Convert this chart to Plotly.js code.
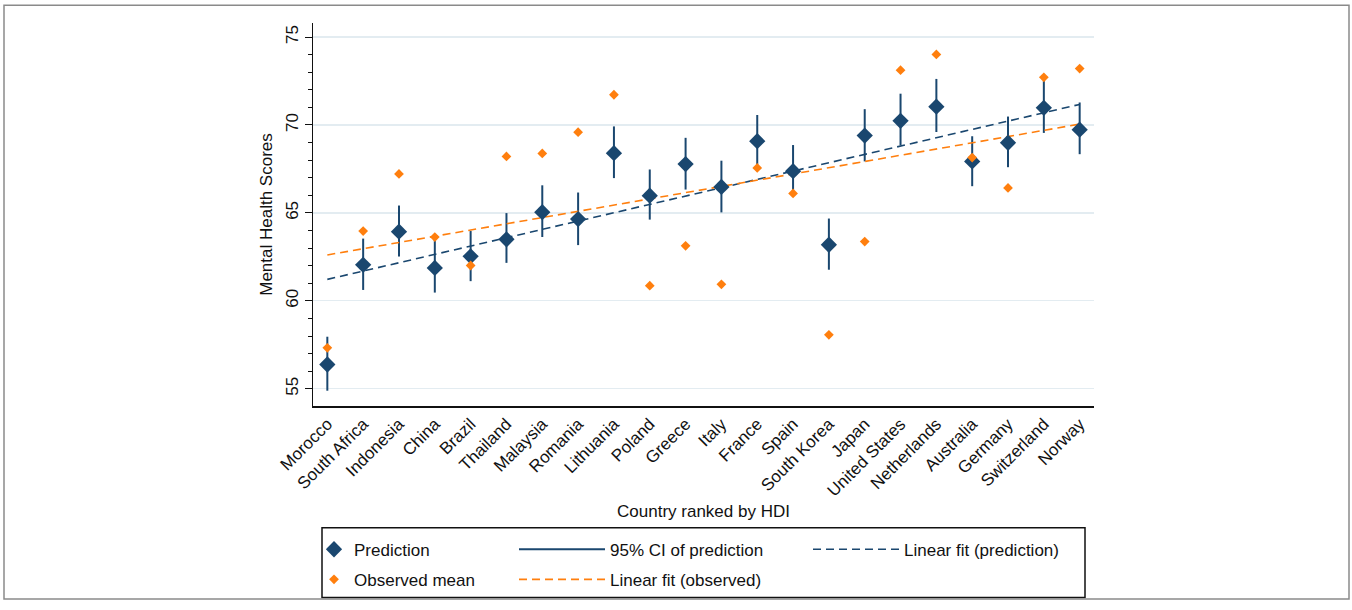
<!DOCTYPE html>
<html>
<head>
<meta charset="utf-8">
<script src="https://cdn.plot.ly/plotly-3.0.1.min.js"></script>
<style>html,body{margin:0;padding:0;background:#fff;overflow:hidden;width:1352px;height:610px;}#chart{width:1352px;height:610px;}</style>
</head>
<body>
<div id="chart"></div>
<script>
const countries = ["Morocco","South Africa","Indonesia","China","Brazil","Thailand","Malaysia","Romania","Lithuania","Poland","Greece","Italy","France","Spain","South Korea","Japan","United States","Netherlands","Australia","Germany","Switzerland","Norway"];
const prediction = [56.38,62.05,63.93,61.87,62.53,63.50,65.04,64.65,68.40,65.98,67.78,66.48,69.08,67.37,63.19,69.40,70.24,71.04,67.93,68.99,70.98,69.73];
const ciLow = [54.89,60.62,62.52,60.47,61.12,62.16,63.63,63.17,66.98,64.62,66.33,65.03,67.54,65.92,61.77,67.93,68.84,69.60,66.52,67.60,69.55,68.34];
const ciHigh = [57.96,63.54,65.42,63.63,63.97,64.99,66.57,66.16,69.92,67.47,69.27,67.97,70.57,68.86,64.68,70.90,71.78,72.62,69.36,70.48,72.52,71.28];
const observed = [57.33,63.97,67.22,63.63,62.01,68.21,68.38,69.59,71.72,60.86,63.13,60.94,67.56,66.11,58.07,63.37,73.12,74.01,68.15,66.42,72.71,73.21];
const fitPredEnds = [61.22,71.17];
const fitObsEnds = [62.61,70.05];
const yTicks = [55,60,65,70,75];

const NAVY = '#1a476f';
const ORANGE = '#ff7f0e';
const FONT = 'Liberation Sans, Arial, sans-serif';

const ciX = [], ciY = [];
countries.forEach((c,i)=>{ ciX.push(c,c,null); ciY.push(ciLow[i],ciHigh[i],null); });
const fitX = [countries[0], countries[countries.length-1]];

const traces = [
  {type:'scatter', mode:'lines', x:ciX, y:ciY, name:'95% CI of prediction',
   line:{color:NAVY, width:2}, legend:'legend2', legendgroup:'ci', legendrank:1, hoverinfo:'skip'},
  {type:'scatter', mode:'lines', x:fitX, y:fitPredEnds, name:'Linear fit (prediction)',
   line:{color:NAVY, width:1.6, dash:'8px,5px'}, legend:'legend3', legendgroup:'fp', legendrank:1},
  {type:'scatter', mode:'lines', x:fitX, y:fitObsEnds, name:'Linear fit (observed)',
   line:{color:ORANGE, width:1.6, dash:'8px,5px'}, legend:'legend2', legendgroup:'fo', legendrank:2},
  {type:'scatter', mode:'markers', x:countries, y:prediction, name:'Prediction',
   marker:{symbol:'diamond', size:12.5, color:NAVY}, legend:'legend', legendgroup:'p', legendrank:1},
  {type:'scatter', mode:'markers', x:countries, y:observed, name:'Observed mean',
   marker:{symbol:'diamond', size:7.5, color:ORANGE}, legend:'legend', legendgroup:'o', legendrank:2}
];

const L = 313, R = 1094, T = 23, B = 413;
const W = R - L, H = B - T;
const px = v => (v - L)/W;
const py = v => (B - v)/H;

const legendBase = {orientation:'v', xanchor:'left', yanchor:'top', bgcolor:'rgba(0,0,0,0)', borderwidth:0,
  font:{family:FONT, size:17, color:'#111'}, tracegroupgap:5, traceorder:'grouped'};

const layout = {
  width:1352, height:610,
  margin:{l:L, r:1352-R, t:T, b:610-B},
  paper_bgcolor:'#fff', plot_bgcolor:'#fff',
  font:{family:FONT, size:17, color:'#111'},
  showlegend:true,
  xaxis:{type:'category', range:[-0.4, 21.4], tickangle:-45, ticks:'', showgrid:false,
    showline:true, linecolor:'#111', linewidth:1.5, zeroline:false, automargin:false,
    tickfont:{family:FONT, size:17, color:'#111'},
    title:{text:'Country ranked by HDI', font:{family:FONT, size:17, color:'#111'}, standoff:5}},
  yaxis:{range:[54.02, 75.8], tickvals:yTicks, tickangle:-90, ticks:'outside', ticklen:7, tickcolor:'#111',
    showgrid:true, gridcolor:'#e3ecf1', gridwidth:1.2, zeroline:false,
    showline:true, linecolor:'#111', linewidth:1.5, automargin:false,
    minor:{dtick:1, ticks:'outside', ticklen:4, tickcolor:'#111', showgrid:false},
    tickfont:{family:FONT, size:17, color:'#111'},
    title:{text:'Mental Health Scores', font:{family:FONT, size:17, color:'#111'}, standoff:6}},
  legend: Object.assign({}, legendBase, {x:px(314), y:py(541)}),
  legend2: Object.assign({}, legendBase, {x:px(514), y:py(541), itemwidth:86}),
  legend3: Object.assign({}, legendBase, {x:px(808), y:py(541), itemwidth:86}),
  shapes:[
    {type:'rect', xref:'paper', yref:'paper', x0:px(322), x1:px(1085), y0:py(608), y1:py(537),
     line:{color:'#111', width:1.5}, fillcolor:'rgba(0,0,0,0)', layer:'below'},
    {type:'rect', xref:'paper', yref:'paper', x0:px(4), x1:px(1349), y0:py(609.5), y1:py(5),
     line:{color:'#8a8a8a', width:1.5}, fillcolor:'rgba(0,0,0,0)', layer:'below'}
  ]
};

Plotly.newPlot('chart', traces, layout, {displayModeBar:false, staticPlot:true});
</script>
</body>
</html>
